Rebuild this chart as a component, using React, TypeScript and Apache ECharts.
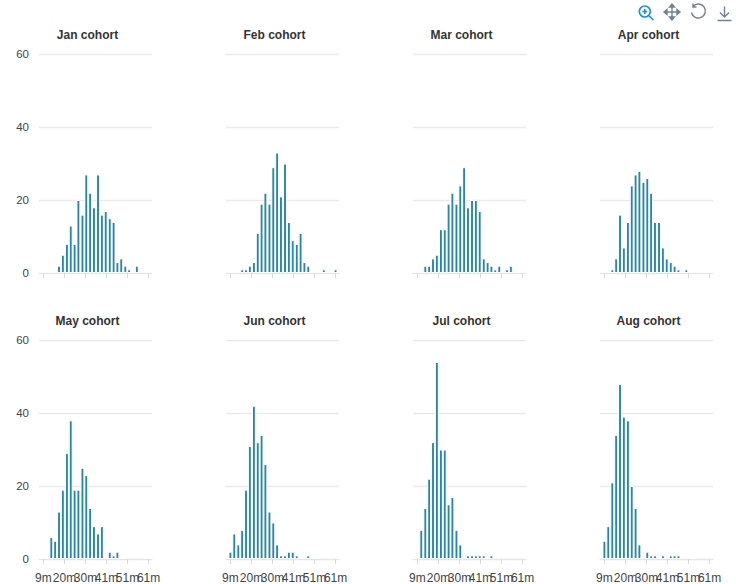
import React, { useEffect, useRef } from "react";
import * as echarts from "echarts";

const binMinutes = [9.4, 11.3, 13.3, 15.2, 17.1, 19.0, 21.0, 22.9, 24.8, 26.7, 28.7, 30.6, 32.5, 34.4, 36.4, 38.3, 40.2, 42.2, 44.1, 46.0, 47.9, 49.9, 51.8, 53.7, 55.6, 57.6, 59.5, 61.4];
const tickMinutes = [9.4, 19.8, 30.2, 40.6, 51.0, 61.4];
// The reference's labels collide; each axis carries alternate labels so none is dropped by ECharts.
const labelMinutesA = [9.4, 30.2, 51.0];
const labelMinutesB = [19.8, 40.6, 61.4];
const yTicks = [0, 20, 40, 60];
const cohorts = ["Jan cohort", "Feb cohort", "Mar cohort", "Apr cohort", "May cohort", "Jun cohort", "Jul cohort", "Aug cohort"];

const jan = [0, 0, 0, 0, 2, 5, 8, 13, 8, 20, 16, 27, 22, 18, 27, 16, 17, 15, 14, 3, 4, 2, 1, 0, 2, 0, 0, 0];
const feb = [0, 0, 0, 1, 1, 2, 3, 11, 19, 22, 19, 29, 33, 21, 30, 14, 9, 8, 11, 3, 2, 0, 0, 0, 1, 0, 0, 1];
const mar = [0, 0, 2, 2, 4, 5, 12, 12, 19, 22, 19, 24, 29, 18, 20, 20, 17, 4, 3, 2, 1, 2, 0, 1, 2, 0, 0, 0];
const apr = [0, 0, 1, 4, 16, 7, 14, 24, 27, 28, 25, 26, 22, 14, 14, 7, 4, 3, 2, 1, 0, 1, 0, 0, 0, 0, 0, 0];
const may = [0, 0, 6, 5, 13, 19, 29, 38, 19, 19, 25, 23, 14, 9, 7, 9, 0, 2, 1, 2, 0, 0, 0, 0, 0, 0, 0, 0];
const jun = [2, 7, 4, 8, 19, 31, 42, 32, 34, 26, 13, 10, 4, 1, 1, 2, 2, 1, 0, 0, 1, 0, 0, 0, 0, 0, 0, 0];
const jul = [0, 8, 14, 22, 32, 54, 30, 30, 15, 17, 8, 4, 0, 1, 1, 1, 1, 1, 0, 1, 0, 0, 0, 0, 0, 0, 0, 0];
const aug = [5, 9, 21, 34, 48, 39, 38, 20, 14, 4, 0, 2, 1, 1, 0, 1, 0, 1, 1, 1, 0, 0, 0, 0, 0, 0, 0, 0];
const seriesValues = [jan, feb, mar, apr, may, jun, jul, aug];

const FONT = '"Liberation Sans", Arial, sans-serif';
const BAR = "#2a86a2";
const GREY = "#72818f";

echarts.graphic.registerShape("tool-zoom", echarts.graphic.extendPath("M6.5 1a5.5 5.5 0 1 0 0 11a5.5 5.5 0 1 0 0-11z M10.5 10.5L15 15 M6.5 4v5 M4 6.5h5", {}));
echarts.graphic.registerShape("tool-move", echarts.graphic.extendPath("M8 0v16 M0 8h16 M8 0L5.5 3h5z M8 16l-2.5-3h5z M0 8l3-2.5v5z M16 8l-3-2.5v5z", {}));
echarts.graphic.registerShape("tool-restore", echarts.graphic.extendPath("M3 3A7 7 0 1 1 1.5 9 M3 0v3.5h3.5", {}));
echarts.graphic.registerShape("tool-save", echarts.graphic.extendPath("M8 1v10 M3.5 7L8 11.5 12.5 7 M1 15h14", {}));

export default function App() {
  const ref = useRef<HTMLDivElement>(null);
  useEffect(() => {
    if (!ref.current) return;
    const chart = echarts.init(ref.current, undefined, { renderer: "svg" });
    const panels = cohorts.map((_, i) => ({ col: i % 4, row: Math.floor(i / 4) }));
    const toolStyle = { fill: "none", stroke: GREY, lineWidth: 1.4 };
    const xLabel = (values: number[], show: boolean) => ({
      show,
      customValues: values,
      formatter: (v: number) => `${Math.round(v)}m`,
      margin: 13,
      fontFamily: FONT,
      fontSize: 12,
      color: "#444444",
      hideOverlap: false,
    });
    const mainX = panels.map((p, i) => ({
      type: "value",
      gridIndex: i,
      position: "bottom",
      min: 7.2,
      max: 63.1,
      axisLine: { show: true, lineStyle: { color: "#e6e6e6", width: 1 } },
      axisTick: { show: true, length: 5, lineStyle: { color: "#d9d9d9" }, customValues: tickMinutes },
      axisLabel: xLabel(labelMinutesA, p.row === 1),
      splitLine: { show: false },
    }));
    const labelX = panels.flatMap((p, i) =>
      p.row === 1
        ? [{
            type: "value",
            gridIndex: i,
            position: "bottom",
            min: 7.2,
            max: 63.1,
            axisLine: { show: false },
            axisTick: { show: false },
            axisLabel: xLabel(labelMinutesB, true),
            splitLine: { show: false },
          }]
        : []
    );
    chart.setOption({
      animation: false,
      backgroundColor: "#ffffff",
      graphic: [
        { type: "tool-zoom", x: 638.3, y: 5, style: { fill: "none", stroke: "#1a8fe3", lineWidth: 1.7 } },
        { type: "tool-move", x: 664, y: 4, style: toolStyle },
        { type: "tool-restore", x: 690, y: 3.5, style: toolStyle },
        { type: "tool-save", x: 716.5, y: 5.5, style: toolStyle },
      ],
      title: cohorts.map((name, i) => ({
        text: name,
        left: 87.5 + panels[i].col * 187,
        top: 29 + panels[i].row * 286,
        textAlign: "center",
        padding: 0,
        textStyle: { fontFamily: FONT, fontSize: 12, fontWeight: "bold", color: "#333333" },
      })),
      grid: panels.map((p) => ({
        left: 39 + p.col * 187,
        width: 113,
        top: 54 + p.row * 286,
        height: 219,
      })),
      xAxis: [...mainX, ...labelX],
      yAxis: panels.map((p, i) => ({
        type: "value",
        gridIndex: i,
        min: yTicks[0],
        max: yTicks[yTicks.length - 1],
        interval: yTicks[1] - yTicks[0],
        axisLine: { show: false },
        axisTick: { show: false },
        axisLabel: { show: p.col === 0, margin: 10, fontFamily: FONT, fontSize: 11.5, color: "#444444" },
        splitLine: { show: true, lineStyle: { color: "#eaeaea", width: 1.4 } },
      })),
      series: seriesValues.map((vals, i) => ({
        type: "bar",
        name: cohorts[i],
        xAxisIndex: i,
        yAxisIndex: i,
        barWidth: 3.9,
        itemStyle: { color: BAR, borderColor: "#ffffff", borderWidth: 1 },
        data: vals.flatMap((v, k) => (v > 0 ? [[binMinutes[k], v]] : [])),
      })),
    });
    return () => chart.dispose();
  }, []);
  return <div ref={ref} style={{ position: "fixed", left: 0, top: 0, width: 736, height: 584 }} />;
}
